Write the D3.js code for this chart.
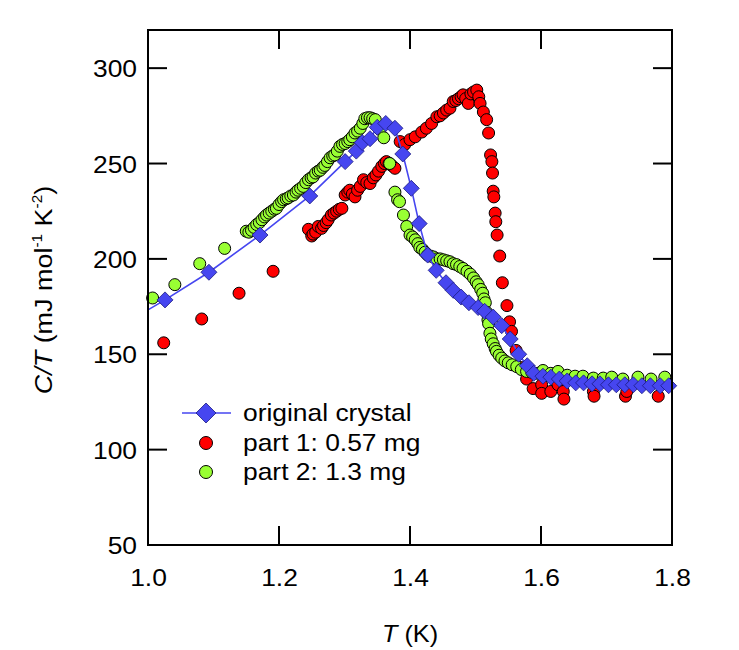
<!DOCTYPE html>
<html><head><meta charset="utf-8">
<script src="https://cdn.jsdelivr.net/npm/d3@7"></script>
<style>body{margin:0;background:#fff}svg{display:block}text{font-family:"Liberation Sans",Arial,Helvetica,sans-serif;fill:#000}</style>
</head><body>
<script>
// ---------- data ----------
const xTicks = [1.0, 1.2, 1.4, 1.6, 1.8];
const xTickLabels = ["1.0", "1.2", "1.4", "1.6", "1.8"];
const yTicks = [50, 100, 150, 200, 250, 300];
const yTickLabels = ["50", "100", "150", "200", "250", "300"];
const seriesNames = ["original crystal", "part 1: 0.57 mg", "part 2: 1.3 mg"];

const origT = [1.026,1.093,1.171,1.247,1.301,1.318,1.327,1.339,1.350,1.363,1.377,1.389,1.402,1.414,1.427,1.440,1.455,1.466,1.478,1.490,1.504,1.514,1.527,1.540,1.553,1.566,1.579,1.589,1.603,1.615,1.628,1.640,1.653,1.665,1.678,1.690,1.703,1.715,1.728,1.741,1.754,1.767,1.782,1.795];
const origCT = [178.5,193,212.5,233,251,256.5,261,263,269,271,268.5,255,237,218.5,202,194,187.5,183.5,180,177,174.5,172.5,169.5,165,158,150,144,140,138.5,138,137,136,135,135,134.5,134.5,134,134,134,134,133.5,133.5,133.5,133.5];
// start of the guide line at the left axis
const lineLeadT = [1.0];
const lineLeadCT = [173.3];

const part1T = [1.024,1.082,1.139,1.191,1.245,1.250,1.252,1.256,1.260,1.265,1.268,1.272,1.275,1.280,1.284,1.288,1.292,1.296,1.301,1.305,1.308,1.312,1.316,1.320,1.324,1.329,1.334,1.339,1.344,1.348,1.352,1.357,1.361,1.364,1.368,1.372,1.377,1.385,1.392,1.400,1.408,1.418,1.425,1.433,1.441,1.446,1.451,1.456,1.461,1.466,1.470,1.474,1.478,1.481,1.485,1.489,1.493,1.497,1.502,1.505,1.507,1.512,1.517,1.520,1.523,1.525,1.526,1.527,1.528,1.530,1.531,1.533,1.537,1.541,1.548,1.552,1.555,1.562,1.570,1.578,1.588,1.601,1.601,1.615,1.626,1.634,1.635,1.680,1.681,1.729,1.731,1.779];
const part1CT = [156,168.5,182,193.5,215.5,212,213,214,217,216,217.5,219,220.5,223,224,225,226,226.5,233.5,235,236,234,232.5,236,238,241.5,240,239.5,242.5,244,246,248.5,250,251,250,249,247.5,261.5,260,262.5,264,266.5,268.5,271,274.5,275,276.5,278,279,282.5,283,284,285,286,284,281.5,286.5,287.5,288.5,285,281.5,277,273,266,254.5,251,245,235.5,232.5,224,219.5,212.5,201.5,187.5,175.5,167,162,152,143,137,132,134,129.5,130.5,134,130.5,126.5,130.5,128,128,130.5,128];

const part2T = [1.007,1.041,1.079,1.117,1.150,1.154,1.158,1.162,1.166,1.170,1.174,1.178,1.181,1.185,1.189,1.193,1.196,1.200,1.204,1.207,1.211,1.214,1.218,1.222,1.226,1.229,1.233,1.237,1.241,1.245,1.249,1.252,1.256,1.260,1.263,1.267,1.270,1.274,1.278,1.282,1.285,1.289,1.293,1.297,1.301,1.305,1.308,1.312,1.316,1.320,1.324,1.328,1.331,1.335,1.339,1.343,1.347,1.354,1.360,1.369,1.377,1.381,1.384,1.390,1.395,1.400,1.404,1.408,1.412,1.415,1.419,1.423,1.427,1.431,1.436,1.441,1.446,1.451,1.456,1.461,1.466,1.471,1.476,1.481,1.487,1.492,1.497,1.501,1.504,1.508,1.511,1.513,1.515,1.517,1.519,1.520,1.522,1.524,1.527,1.530,1.532,1.536,1.540,1.545,1.550,1.556,1.563,1.570,1.578,1.586,1.595,1.603,1.615,1.626,1.640,1.652,1.664,1.680,1.695,1.708,1.725,1.748,1.768,1.789];
const part2CT = [179.5,186.5,197.5,205.5,214.5,214,215,216.5,218,219,220.5,222,223,224,225,226,226.5,228.5,230,231,231.5,232,233,233.5,235,236,237,238,240,241.5,242.5,243,245,246,246.5,248,249,251,253,254,254.5,256.5,259,260,260.5,261.5,262.5,264,266,267,268.5,271,273.5,274,274,273.5,273,268,263.5,250,235,231,230,223,217,212.5,211.5,210,208,206,205,203.5,202,201.5,201,200,200,199.5,199,198.5,197.5,197,196,195,193.5,192,190,188,186.5,184,182,179,177,172,168,166,161,158,155.5,153,151.5,149.5,148,146.5,145.5,144.5,143.5,142,141,140.5,140,141.5,140,141,139,138.5,138.5,137.5,137.5,138,137,138,137,138];

// ---------- layout ----------
const W = 739, H = 650;
const m = {left: 148, right: 672, top: 30, bottom: 545};
const colors = {orig: "#4646f0", p1: "#ff0000", p2: "#99ff33"};
const fs = 24, fsTitle = 23, fsYTitle = 24.5, sx = 1.1; // glyphs in the reference are a bit wide

const svg = d3.select("body").append("svg").attr("width", W).attr("height", H);
const x = d3.scaleLinear().domain([1.0, 1.8]).range([m.left, m.right]);
const y = d3.scaleLinear().domain([50, 320]).range([m.bottom, m.top]);

const zip = (a, b) => a.map((v, i) => [v, b[i]]);
const origData = zip(origT, origCT);
const p1Data = zip(part1T, part1CT);
const p2Data = zip(part2T, part2CT);
const lineData = zip(lineLeadT, lineLeadCT).concat(origData);

const plot = svg.append("g");
plot.append("g").selectAll("circle").data(p1Data).join("circle")
  .attr("cx", d => x(d[0])).attr("cy", d => y(d[1])).attr("r", 6)
  .attr("fill", colors.p1).attr("stroke", "#000").attr("stroke-width", 1);
plot.append("g").selectAll("circle").data(p2Data).join("circle")
  .attr("cx", d => x(d[0])).attr("cy", d => y(d[1])).attr("r", 6)
  .attr("fill", colors.p2).attr("stroke", "#000").attr("stroke-width", 1);
plot.append("path").datum(lineData)
  .attr("d", d3.line().x(d => x(d[0])).y(d => y(d[1])))
  .attr("fill", "none").attr("stroke", colors.orig).attr("stroke-width", 1.6);
const dsz = 8;
const diamond = `M0,${-dsz}L${dsz},0L0,${dsz}L${-dsz},0Z`;
plot.append("g").selectAll("path").data(origData).join("path")
  .attr("transform", d => `translate(${x(d[0])},${y(d[1])})`)
  .attr("d", diamond).attr("fill", colors.orig).attr("stroke", "#1a1a80").attr("stroke-width", 0.8);

// ---------- axes ----------
const tl = 19;
const ax = svg.append("g").attr("stroke", "#000").attr("stroke-width", 2);
ax.append("rect").attr("x", m.left).attr("y", m.top).attr("width", m.right - m.left).attr("height", m.bottom - m.top).attr("fill", "none");
const xt = xTicks.filter(v => v > 1.0 && v < 1.8);
const yt = yTicks.filter(v => v > 50);
xt.forEach(v => {
  ax.append("line").attr("x1", x(v)).attr("x2", x(v)).attr("y1", m.bottom).attr("y2", m.bottom - tl);
  ax.append("line").attr("x1", x(v)).attr("x2", x(v)).attr("y1", m.top).attr("y2", m.top + tl);
});
yt.forEach(v => {
  ax.append("line").attr("y1", y(v)).attr("y2", y(v)).attr("x1", m.left).attr("x2", m.left + tl);
  ax.append("line").attr("y1", y(v)).attr("y2", y(v)).attr("x1", m.right).attr("x2", m.right - tl);
});
const xb = d3.axisBottom(x).tickValues(xTicks).tickSize(0).tickFormat((d, i) => xTickLabels[i]);
const yl = d3.axisLeft(y).tickValues(yTicks).tickSize(0).tickFormat((d, i) => yTickLabels[i]);
const gx = svg.append("g").attr("transform", `translate(0,${m.bottom})`).call(xb);
gx.select(".domain").remove();
gx.selectAll("text").attr("font-size", fs).attr("y", 41).attr("dy", 0)
  .attr("transform", `scale(${sx},1)`).style("font-family", '"Liberation Sans",Arial,sans-serif');
const gy = svg.append("g").attr("transform", `translate(${m.left},0)`).call(yl);
gy.select(".domain").remove();
gy.selectAll("text").attr("font-size", fs).attr("x", -11 / sx).attr("dy", "0.36em")
  .attr("transform", `scale(${sx},1)`).style("font-family", '"Liberation Sans",Arial,sans-serif');

// axis titles
const xl = svg.append("text").attr("transform", `translate(410,642) scale(${sx},1)`).attr("text-anchor", "middle").attr("font-size", fsTitle);
xl.append("tspan").attr("font-style", "italic").text("T");
xl.append("tspan").text(" (K)");
const ylab = svg.append("text").attr("transform", `translate(52,290) rotate(-90) scale(${sx},1)`).attr("text-anchor", "middle").attr("font-size", fsYTitle);
ylab.append("tspan").attr("font-style", "italic").text("C/T");
ylab.append("tspan").text(" (mJ mol");
ylab.append("tspan").attr("font-size", 14).attr("dy", -10).text("-1");
ylab.append("tspan").attr("dy", 10).text(" K");
ylab.append("tspan").attr("font-size", 14).attr("dy", -10).text("-2");
ylab.append("tspan").attr("dy", 10).text(")");

// ---------- legend ----------
const lg = svg.append("g");
const lx = 206, ly = [413, 443, 472];
lg.append("line").attr("x1", lx - 24).attr("x2", lx + 25).attr("y1", ly[0]).attr("y2", ly[0]).attr("stroke", colors.orig).attr("stroke-width", 1.6);
lg.append("path").attr("transform", `translate(${lx},${ly[0]})`).attr("d", `M0,-10L10,0L0,10L-10,0Z`).attr("fill", colors.orig).attr("stroke", "#1a1a80").attr("stroke-width", 0.8);
lg.append("circle").attr("cx", lx).attr("cy", ly[1]).attr("r", 6.5).attr("fill", colors.p1).attr("stroke", "#000");
lg.append("circle").attr("cx", lx).attr("cy", ly[2]).attr("r", 6.5).attr("fill", colors.p2).attr("stroke", "#000");
seriesNames.forEach((s, i) => {
  lg.append("text").attr("transform", `translate(243,${ly[i] + 8}) scale(${sx},1)`).attr("font-size", fs).text(s);
});
</script>
</body></html>
